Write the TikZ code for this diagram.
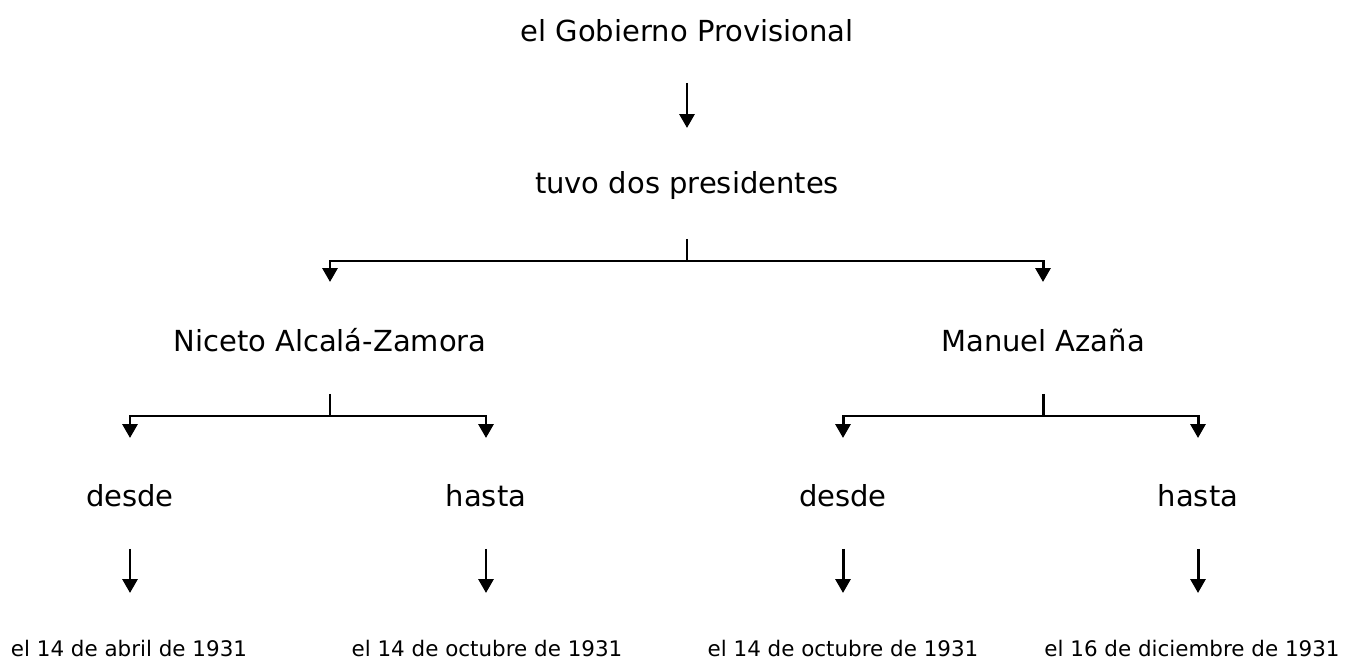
\documentclass[tikz,border=0pt]{standalone}
\usepackage{fontspec}
\setmainfont{DejaVu Sans}
\usetikzlibrary{arrows.meta, calc, positioning}

\begin{document}
\begin{tikzpicture}[x=0.02cm, y=-0.02cm,
    bigtxt/.style={inner sep=0pt, anchor=base, font=\fontsize{16.5}{20}\selectfont},
    smalltxt/.style={inner sep=0pt, anchor=base, font=\fontsize{12.2}{15}\selectfont},
    link/.style={line width=1.7pt},
    arr/.style={link, -{Triangle[width=0.3cm, length=0.28cm]}}]
    \useasboundingbox (0,0) rectangle (1350,659);

    % Top level
    \node[bigtxt] (gob) at (687,41) {el Gobierno Provisional};
    \node[bigtxt] (tuvo) at (687,193) {tuvo dos presidentes};
    \draw[arr, shorten <=0.84cm, shorten >=1.3cm] (gob.base) -- (tuvo.base);

    % Presidents
    \node[bigtxt] (nic) at (330,351) {Niceto Alcalá-Zamora};
    \node[bigtxt] (man) at (1043,351) {Manuel Azaña};
    \coordinate (tuvoJ) at (687,261);
    \draw[link, shorten <=0.92cm] (tuvo.base) -- (tuvoJ);
    \draw[arr, shorten >=1.38cm] (tuvoJ) -| (nic.base);
    \draw[arr, shorten >=1.38cm] (tuvoJ) -| (man.base);

    % desde / hasta
    \node[bigtxt] (desdeA) at (130,506) {desde};
    \node[bigtxt] (hastaA) at (486,506) {hasta};
    \node[bigtxt] (desdeB) at (843,506) {desde};
    \node[bigtxt] (hastaB) at (1198,506) {hasta};
    \coordinate (nicJ) at (330,416);
    \coordinate (manJ) at (1043,416);
    \draw[link, shorten <=0.86cm] (nic.base) -- (nicJ);
    \draw[link, shorten <=0.86cm] (man.base) -- (manJ);
    \draw[arr, shorten >=1.36cm] (nicJ) -| (desdeA.base);
    \draw[arr, shorten >=1.36cm] (nicJ) -| (hastaA.base);
    \draw[arr, shorten >=1.36cm] (manJ) -| (desdeB.base);
    \draw[arr, shorten >=1.36cm] (manJ) -| (hastaB.base);

    % Dates
    \node[smalltxt] (fechaA) at (129,656) {el 14 de abril de 1931};
    \node[smalltxt] (fechaB) at (487,656) {el 14 de octubre de 1931};
    \node[smalltxt] (fechaC) at (843,656) {el 14 de octubre de 1931};
    \node[smalltxt] (fechaD) at (1192,656) {el 16 de diciembre de 1931};
    \draw[arr, shorten <=0.86cm, shorten >=1.26cm] (desdeA.base) -- (desdeA.base |- fechaA.base);
    \draw[arr, shorten <=0.86cm, shorten >=1.26cm] (hastaA.base) -- (hastaA.base |- fechaB.base);
    \draw[arr, shorten <=0.86cm, shorten >=1.26cm] (desdeB.base) -- (desdeB.base |- fechaC.base);
    \draw[arr, shorten <=0.86cm, shorten >=1.26cm] (hastaB.base) -- (hastaB.base |- fechaD.base);
\end{tikzpicture}
\end{document}
